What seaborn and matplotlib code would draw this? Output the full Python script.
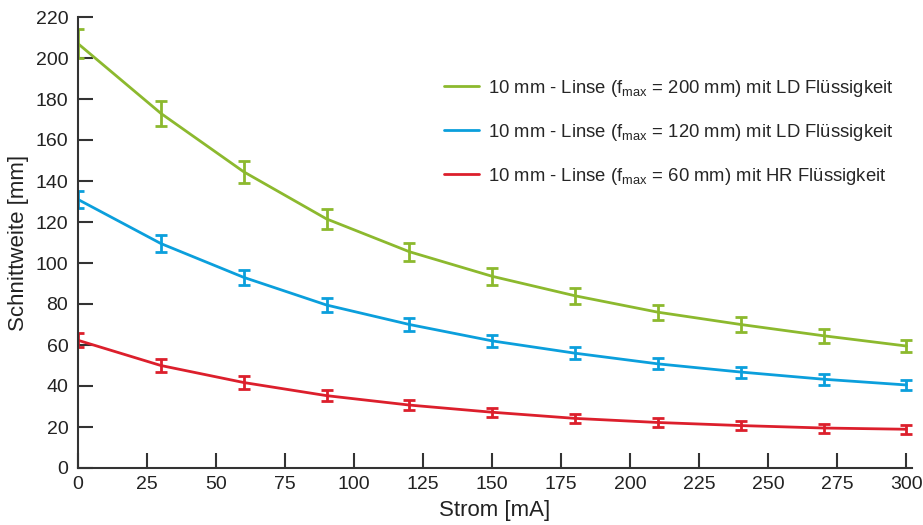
import matplotlib
matplotlib.use("Agg")
import matplotlib.pyplot as plt
import seaborn as sns
import pandas as pd

strom = [0, 30, 60, 90, 120, 150, 180, 210, 240, 270, 300]
green_vals = [207, 173, 144.5, 121.5, 105.5, 93.5, 84, 76, 70, 64.5, 59.5]
green_err = [7, 6.2, 5.5, 5, 4.5, 4, 4, 3.7, 3.5, 3.3, 3.1]
blue_vals = [131, 109.5, 93, 79.5, 70, 62, 56, 50.8, 46.8, 43.3, 40.5]
blue_err = [4, 4, 3.5, 3.2, 3, 2.8, 2.8, 2.7, 2.7, 2.6, 2.6]
red_vals = [62.3, 50, 41.7, 35.3, 30.7, 27.2, 24.2, 22.2, 20.7, 19.5, 18.9]
red_err = [3.5, 3.4, 3, 2.8, 2.5, 2.3, 2.3, 2.2, 2.2, 2.2, 2.2]

labels = [
    r"10 mm - Linse (f$_{\mathrm{max}}$ = 200 mm) mit LD Flüssigkeit",
    r"10 mm - Linse (f$_{\mathrm{max}}$ = 120 mm) mit LD Flüssigkeit",
    r"10 mm - Linse (f$_{\mathrm{max}}$ = 60 mm) mit HR Flüssigkeit",
]
colors = ["#8cb92e", "#0b9fdc", "#dc1f2c"]

sns.set_theme(style="white")
plt.rcParams["font.family"] = ["Liberation Sans", "DejaVu Sans"]
plt.rcParams["mathtext.fontset"] = "custom"
plt.rcParams["mathtext.rm"] = "Liberation Sans"
plt.rcParams["mathtext.it"] = "Liberation Sans:italic"
plt.rcParams["mathtext.bf"] = "Liberation Sans:bold"

rows = []
for lab, vals in zip(labels, [green_vals, blue_vals, red_vals]):
    for x, v in zip(strom, vals):
        rows.append({"Strom": x, "Wert": v, "Serie": lab})
df = pd.DataFrame(rows)

fig = plt.figure(figsize=(9.23, 5.25), dpi=100)
ax = fig.add_axes([78 / 923, 1 - 468 / 525, (912 - 78) / 923, (468 - 17) / 525])

sns.lineplot(data=df, x="Strom", y="Wert", hue="Serie", palette=colors,
             hue_order=labels, linewidth=2, ax=ax, legend=True)

for vals, errs, c in zip([green_vals, blue_vals, red_vals],
                         [green_err, blue_err, red_err], colors):
    ax.errorbar(strom, vals, yerr=errs, fmt="none", ecolor=c,
                elinewidth=2, capsize=4, capthick=2)

ax.set_xlim(0, 302)
ax.set_ylim(0, 220)
ax.set_xticks(range(0, 301, 25))
ax.set_yticks(range(0, 221, 20))
ax.tick_params(axis="both", direction="in", length=11, width=1.5,
               labelsize=14, colors="#333333", labelcolor="#222222",
               bottom=True, left=True, pad=6)
ax.tick_params(axis="y", pad=7)
for s in ["top", "right"]:
    ax.spines[s].set_visible(False)
for s in ["left", "bottom"]:
    ax.spines[s].set_color("#333333")
    ax.spines[s].set_linewidth(1.5)

ax.set_xlabel("Strom [mA]", fontsize=16, color="#222222", labelpad=5)
ax.set_ylabel("Schnittweite [mm]", fontsize=16, color="#222222", labelpad=5)

leg = ax.legend(loc="upper left", bbox_to_anchor=(0.4295, 0.882), frameon=False,
                fontsize=13.3, handlelength=1.9, labelspacing=1.25,
                handletextpad=0.5, borderaxespad=0)
for line in leg.get_lines():
    line.set_linewidth(2)

fig.savefig("out.png", dpi=100)
